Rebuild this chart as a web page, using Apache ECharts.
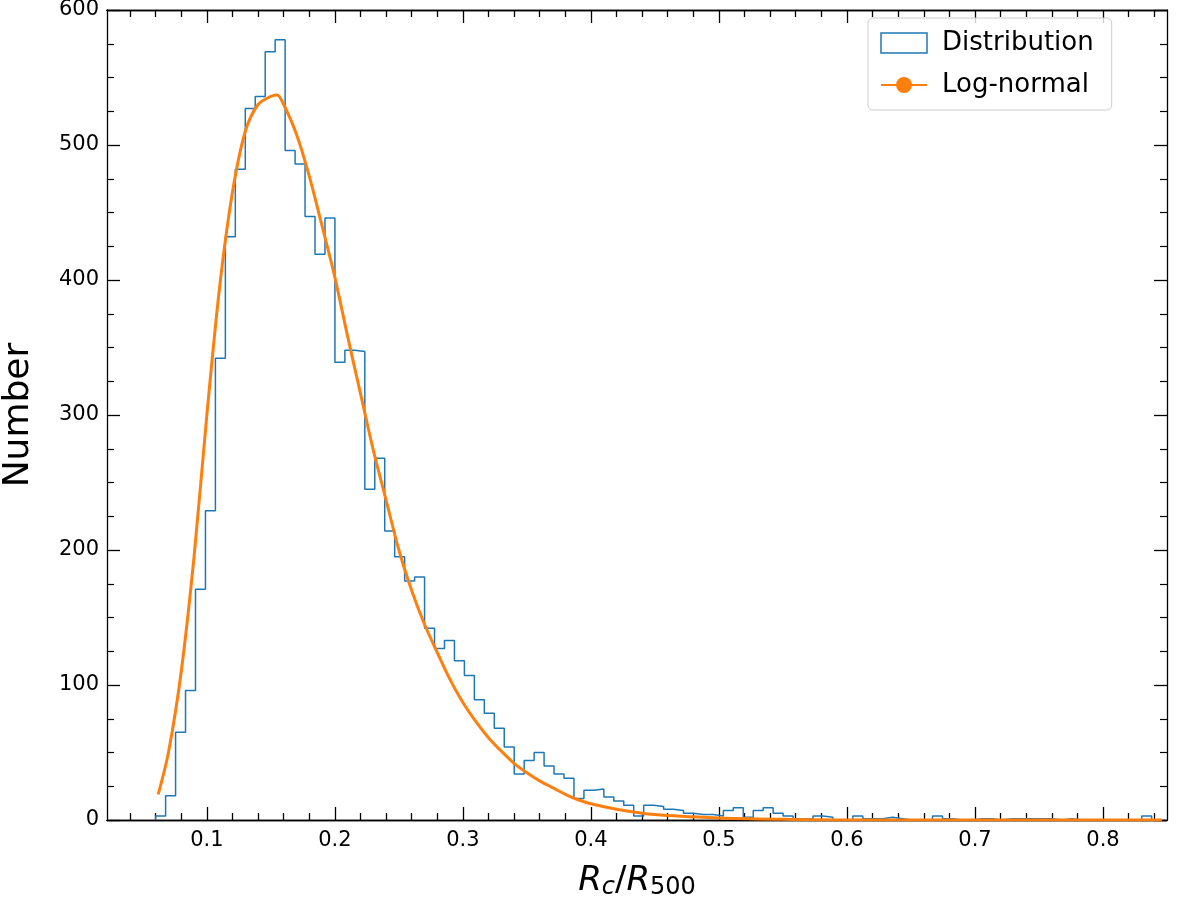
<!DOCTYPE html>
<html>
<head>
<meta charset="utf-8">
<script src="https://cdn.jsdelivr.net/npm/echarts@6/dist/echarts.min.js"></script>
<style>html,body{margin:0;padding:0;background:#fff}#main{width:1200px;height:900px}</style>
</head>
<body>
<div id="main"></div>
<script>
// histogram: 100 bins, first edge and width
var binStart = 0.0600;
var binWidth = 0.00778;
var counts = [3, 18, 65, 96, 171, 229, 342, 432, 482, 527,
  536, 569, 578, 496, 486, 447, 419, 446, 339, 348,
  347, 245, 268, 214, 195, 177, 180, 142, 127, 133,
  118, 107, 89, 79, 68, 54, 34, 44, 50, 40,
  34, 31, 16, 22, 23, 17, 14, 11, 3, 11,
  10, 8, 7, 5, 4, 4, 3, 7, 9, 2,
  7, 9, 5, 3, 1, 1, 3, 2, 0, 0,
  3, 1, 1, 2, 1, 0, 0, 0, 3, 1,
  0, 0, 1, 1, 0, 1, 1, 1, 1, 1,
  0, 1, 0, 0, 0, 0, 0, 0, 0, 3];
// log-normal fit
var fitX = [0.062, 0.07, 0.08, 0.09, 0.10, 0.11, 0.12, 0.13, 0.14, 0.15, 0.155, 0.16, 0.17, 0.18, 0.19,
  0.20, 0.21, 0.22, 0.23, 0.24, 0.25, 0.26, 0.27, 0.28, 0.29, 0.30, 0.31, 0.32, 0.33, 0.34,
  0.35, 0.36, 0.37, 0.38, 0.39, 0.40, 0.42, 0.45, 0.50, 0.55, 0.60, 0.70, 0.846];
var fitY = [19, 50, 110, 195, 300, 395, 465, 510, 530, 536, 537, 530, 508, 477, 440,
  402, 358, 316, 274, 237, 200, 170, 145, 124, 104, 87, 73, 61, 51, 42,
  35, 29, 24, 19, 15, 12, 8, 4, 1.5, 0.5, 0, 0, 0];
var majorX = [0.1, 0.2, 0.3, 0.4, 0.5, 0.6, 0.7, 0.8];
var minorX = [];
for (var k = 2; k <= 42; k++) { if (k % 5 !== 0) minorX.push(+(k * 0.02).toFixed(2)); }

var histData = [[binStart, 0]];
for (var i = 0; i < counts.length; i++) histData.push([binStart + i * binWidth, counts[i]]);
var lastEdge = binStart + counts.length * binWidth;
histData.push([lastEdge, counts[counts.length - 1]]);
histData.push([lastEdge, 0]);
var fitData = fitX.map(function (x, j) { return [x, fitY[j]]; });

var font = 'DejaVu Sans';
function xAx(pos, vals, len, labels, extra) {
  var a = {
    type: 'value', min: 0.022, max: 0.85, position: pos,
    axisLine: {show: true, lineStyle: {color: '#000', width: 1.3}},
    splitLine: {show: false},
    axisTick: {show: true, inside: true, length: len, customValues: vals, lineStyle: {color: '#000', width: 1.3}},
    axisLabel: {show: true, customValues: vals, color: labels ? '#000' : 'rgba(0,0,0,0)',
      formatter: labels ? null : function () { return ' '; },
      fontSize: 21, fontFamily: font, margin: 10}
  };
  return Object.assign(a, extra || {});
}
function yAx(pos, labels) {
  return {
    type: 'value', min: 0, max: 600, interval: 100, position: pos,
    axisLine: {show: true, lineStyle: {color: '#000', width: 1.3}},
    splitLine: {show: false},
    axisTick: {show: true, inside: true, length: 13, lineStyle: {color: '#000', width: 1.3}},
    minorTick: {show: true, splitNumber: 4, length: 7, lineStyle: {color: '#000', width: 1.2}},
    axisLabel: {show: labels, color: '#000', fontSize: 21, fontFamily: font, margin: 8}
  };
}

var chart = echarts.init(document.getElementById('main'));
chart.setOption({
  animation: false,
  grid: {left: 107, right: 33, top: 10, bottom: 80, containLabel: false, outerBoundsMode: 'none'},
  legend: {
    left: 868, top: 18, orient: 'vertical', itemGap: 16, itemWidth: 46, itemHeight: 20,
    padding: [12, 18, 12, 12], borderColor: '#ccc', borderWidth: 1, borderRadius: 5,
    backgroundColor: 'rgba(255,255,255,0.8)',
    textStyle: {fontSize: 26, fontFamily: font, color: '#000', padding: [0, 0, 0, 10]},
    data: [
      {name: 'Distribution', icon: 'rect', itemStyle: {color: '#fff', borderColor: '#1f77b4', borderWidth: 1.5}},
      {name: 'Log-normal'}
    ]
  },
  xAxis: [
    xAx('bottom', majorX, 13, true, {
      name: '{i|R}{s|c}{n|/}{i|R}{t|500}', nameLocation: 'middle', nameGap: 42,
      nameTextStyle: {rich: {
        i: {fontSize: 34, fontStyle: 'italic', fontFamily: font, color: '#000'},
        n: {fontSize: 34, fontFamily: font, color: '#000'},
        s: {fontSize: 24, fontStyle: 'italic', fontFamily: font, color: '#000', verticalAlign: 'bottom', padding: [14, 0, 0, 0]},
        t: {fontSize: 24, fontFamily: font, color: '#000', verticalAlign: 'bottom', padding: [14, 0, 0, 0]}
      }}
    }),
    xAx('bottom', minorX, 7, false),
    xAx('top', majorX, 13, false),
    xAx('top', minorX, 7, false)
  ],
  yAxis: [
    Object.assign(yAx('left', true), {
      name: 'Number', nameLocation: 'middle', nameGap: 70,
      nameTextStyle: {fontSize: 36, fontFamily: font, color: '#000'}
    }),
    yAx('right', false)
  ],
  series: [
    {
      name: 'Distribution', type: 'line', step: 'end', data: histData, symbol: 'none',
      lineStyle: {color: '#1f77b4', width: 1.5}, itemStyle: {color: '#1f77b4'}, z: 2
    },
    {
      name: 'Log-normal', type: 'line', data: fitData, symbol: 'none', smooth: 0.3,
      lineStyle: {color: '#ff7f0e', width: 3}, itemStyle: {color: '#ff7f0e'}, z: 3
    }
  ]
});
</script>
</body>
</html>
